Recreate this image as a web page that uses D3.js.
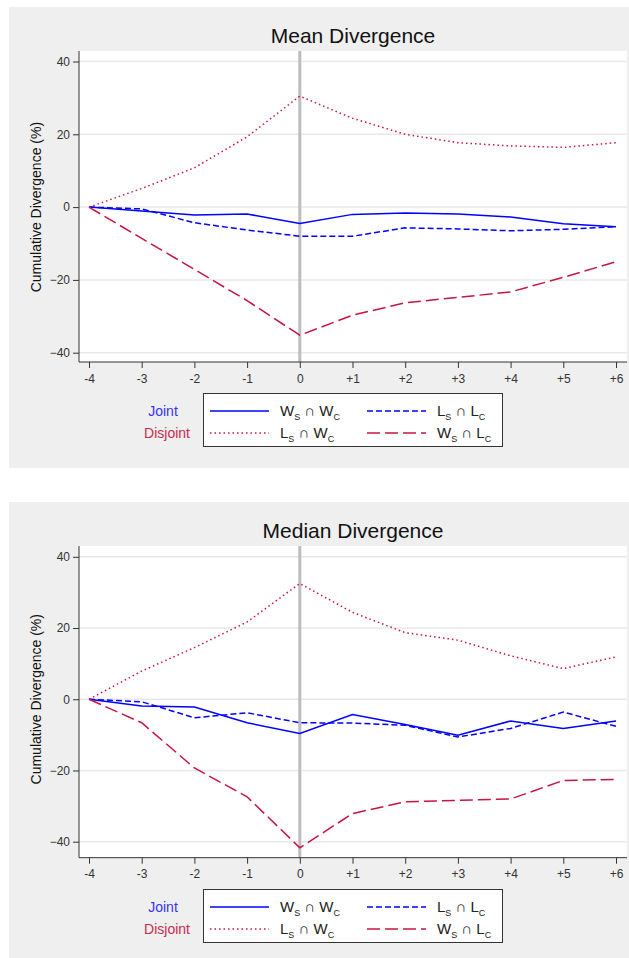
<!DOCTYPE html>
<html>
<head>
<meta charset="utf-8">
<script src="https://cdn.jsdelivr.net/npm/d3@7"></script>
<style>
  body { margin: 0; background: #fff; }
  svg text { font-family: "Liberation Sans", Arial, sans-serif; }
</style>
</head>
<body>
<svg id="chart" width="629" height="958"></svg>
<script>
// event window
const periods = [-4, -3, -2, -1, 0, 1, 2, 3, 4, 5, 6];
const periodLabels = ["-4", "-3", "-2", "-1", "0", "+1", "+2", "+3", "+4", "+5", "+6"];
const yTicks = [-40, -20, 0, 20, 40];

// mean divergence (%)
const meanWsWc = [0, -1.1, -2.2, -1.9, -4.5, -2.0, -1.6, -1.9, -2.7, -4.6, -5.4];
const meanLsLc = [0, -0.5, -4.3, -6.3, -8.0, -8.0, -5.7, -6.0, -6.5, -6.1, -5.4];
const meanLsWc = [0, 5.1, 10.8, 19.3, 30.5, 24.4, 20.0, 17.7, 16.8, 16.4, 17.7];
const meanWsLc = [0, -8.6, -17.1, -25.7, -35.2, -29.7, -26.3, -24.8, -23.3, -19.3, -15.0];

// median divergence (%)
const medWsWc = [0, -1.9, -2.2, -6.6, -9.6, -4.3, -7.1, -10.1, -6.1, -8.2, -6.1];
const medLsLc = [0, -0.7, -5.2, -3.8, -6.6, -6.7, -7.3, -10.6, -8.2, -3.6, -7.6];
const medLsWc = [0, 7.9, 14.5, 21.7, 32.5, 24.4, 18.7, 16.6, 12.2, 8.6, 11.9];
const medWsLc = [0, -6.6, -19.3, -27.4, -41.7, -32.1, -28.8, -28.4, -28.0, -22.8, -22.5];

const BLUE = "#0000ff";
const RED = "#c8143f";

const seriesStyle = {
  wswc: { color: BLUE, dash: null, sub: ["W", "S", " \u2229 W", "C"] },
  lslc: { color: BLUE, dash: "6,3", sub: ["L", "S", " \u2229 L", "C"] },
  lswc: { color: RED, dash: "1.5,3", sub: ["L", "S", " \u2229 W", "C"] },
  wslc: { color: RED, dash: "13,5", sub: ["W", "S", " \u2229 L", "C"] }
};

const svg = d3.select("#chart");

function drawPanel(opts) {
  const g = svg.append("g").attr("transform", `translate(0,${opts.top})`);

  // gray background
  g.append("rect")
    .attr("x", 9).attr("y", 0)
    .attr("width", 620).attr("height", opts.height)
    .attr("fill", "#efefef");

  const plot = { left: 79, right: 627, top: 44, bottom: opts.axisY };

  const x = d3.scaleLinear().domain([-4, 6]).range([89, 616]);
  const y = d3.scaleLinear().domain([-40, 40]).range([opts.yM40, opts.y40]);

  // plot region
  g.append("rect")
    .attr("x", plot.left).attr("y", plot.top)
    .attr("width", plot.right - plot.left).attr("height", plot.bottom - plot.top)
    .attr("fill", "#fff");

  // gridlines
  g.selectAll(".grid")
    .data(yTicks)
    .enter()
    .append("line")
    .attr("x1", plot.left).attr("x2", plot.right)
    .attr("y1", d => y(d)).attr("y2", d => y(d))
    .attr("stroke", "#e8e8e8").attr("stroke-width", 1.5);

  // event line at 0
  g.append("line")
    .attr("x1", x(0)).attr("x2", x(0))
    .attr("y1", plot.top).attr("y2", plot.bottom)
    .attr("stroke", "#bdbdbd").attr("stroke-width", 3);

  // series
  const line = d3.line()
    .x((d, i) => x(periods[i]))
    .y(d => y(d));

  opts.series.forEach(s => {
    const st = seriesStyle[s.key];
    g.append("path")
      .datum(s.values)
      .attr("d", line)
      .attr("fill", "none")
      .attr("stroke", st.color)
      .attr("stroke-width", 1.5)
      .attr("stroke-dasharray", st.dash);
  });

  // y axis
  const yAxis = g.append("g")
    .attr("transform", `translate(${plot.left},0)`)
    .call(d3.axisLeft(y).tickValues(yTicks).tickSize(6).tickPadding(3));
  yAxis.select(".domain").attr("d", `M0,${plot.top}V${plot.bottom}`).attr("stroke", "#333");
  yAxis.selectAll(".tick line").attr("stroke", "#333");
  yAxis.selectAll("text").attr("fill", "#333").style("font-size", "12px");

  // x axis
  const xAxis = g.append("g")
    .attr("transform", `translate(0,${plot.bottom})`)
    .call(d3.axisBottom(x).tickValues(periods).tickFormat((d, i) => periodLabels[i]).tickSize(6).tickPadding(6));
  xAxis.select(".domain").attr("d", `M${plot.left},0H${plot.right}`).attr("stroke", "#333");
  xAxis.selectAll(".tick line").attr("stroke", "#333");
  xAxis.selectAll("text").attr("fill", "#333").style("font-size", "12px");

  // title
  g.append("text")
    .attr("x", 353).attr("y", 36)
    .attr("text-anchor", "middle")
    .style("font-size", "21px")
    .attr("fill", "#111")
    .text(opts.title);

  // y axis title
  g.append("text")
    .attr("transform", `translate(41,${y(0)}) rotate(-90)`)
    .attr("text-anchor", "middle")
    .style("font-size", "14px")
    .attr("fill", "#111")
    .text("Cumulative Divergence (%)");

  // legend
  const lg = g.append("g").attr("transform", `translate(0,${opts.legendTop})`);
  lg.append("rect")
    .attr("x", 203.5).attr("y", 0.5)
    .attr("width", 299).attr("height", 53)
    .attr("fill", "#fff").attr("stroke", "#333").attr("stroke-width", 1);

  lg.append("text").attr("x", 163).attr("y", 23)
    .attr("text-anchor", "middle").style("font-size", "14px")
    .attr("fill", "#3333ff").text("Joint");
  lg.append("text").attr("x", 167).attr("y", 45)
    .attr("text-anchor", "middle").style("font-size", "14px")
    .attr("fill", "#cc2a4e").text("Disjoint");

  const legendItems = [
    { key: "wswc", col: 0, row: 0 },
    { key: "lslc", col: 1, row: 0 },
    { key: "lswc", col: 0, row: 1 },
    { key: "wslc", col: 1, row: 1 }
  ];
  const colX = [210, 367];
  legendItems.forEach(it => {
    const st = seriesStyle[it.key];
    const cy = 18 + it.row * 22;
    lg.append("line")
      .attr("x1", colX[it.col]).attr("x2", colX[it.col] + 59)
      .attr("y1", cy).attr("y2", cy)
      .attr("stroke", st.color).attr("stroke-width", 1.5)
      .attr("stroke-dasharray", st.dash);
    const t = lg.append("text")
      .attr("x", colX[it.col] + 70).attr("y", cy + 5)
      .style("font-size", "15px").attr("fill", "#222");
    t.append("tspan").text(st.sub[0]);
    t.append("tspan").attr("dy", 4).style("font-size", "9px").text(st.sub[1]);
    t.append("tspan").attr("dy", -4).text(st.sub[2]);
    t.append("tspan").attr("dy", 4).style("font-size", "9px").text(st.sub[3]);
  });
}

drawPanel({
  top: 7,
  height: 461,
  title: "Mean Divergence",
  axisY: 355,
  y40: 54.5,
  yM40: 345.7,
  legendTop: 386,
  series: [
    { key: "wswc", values: meanWsWc },
    { key: "lslc", values: meanLsLc },
    { key: "lswc", values: meanLsWc },
    { key: "wslc", values: meanWsLc }
  ]
});

drawPanel({
  top: 502,
  height: 456,
  title: "Median Divergence",
  axisY: 355.7,
  y40: 54.8,
  yM40: 339.7,
  legendTop: 387,
  series: [
    { key: "wswc", values: medWsWc },
    { key: "lslc", values: medLsLc },
    { key: "lswc", values: medLsWc },
    { key: "wslc", values: medWsLc }
  ]
});
</script>
</body>
</html>
